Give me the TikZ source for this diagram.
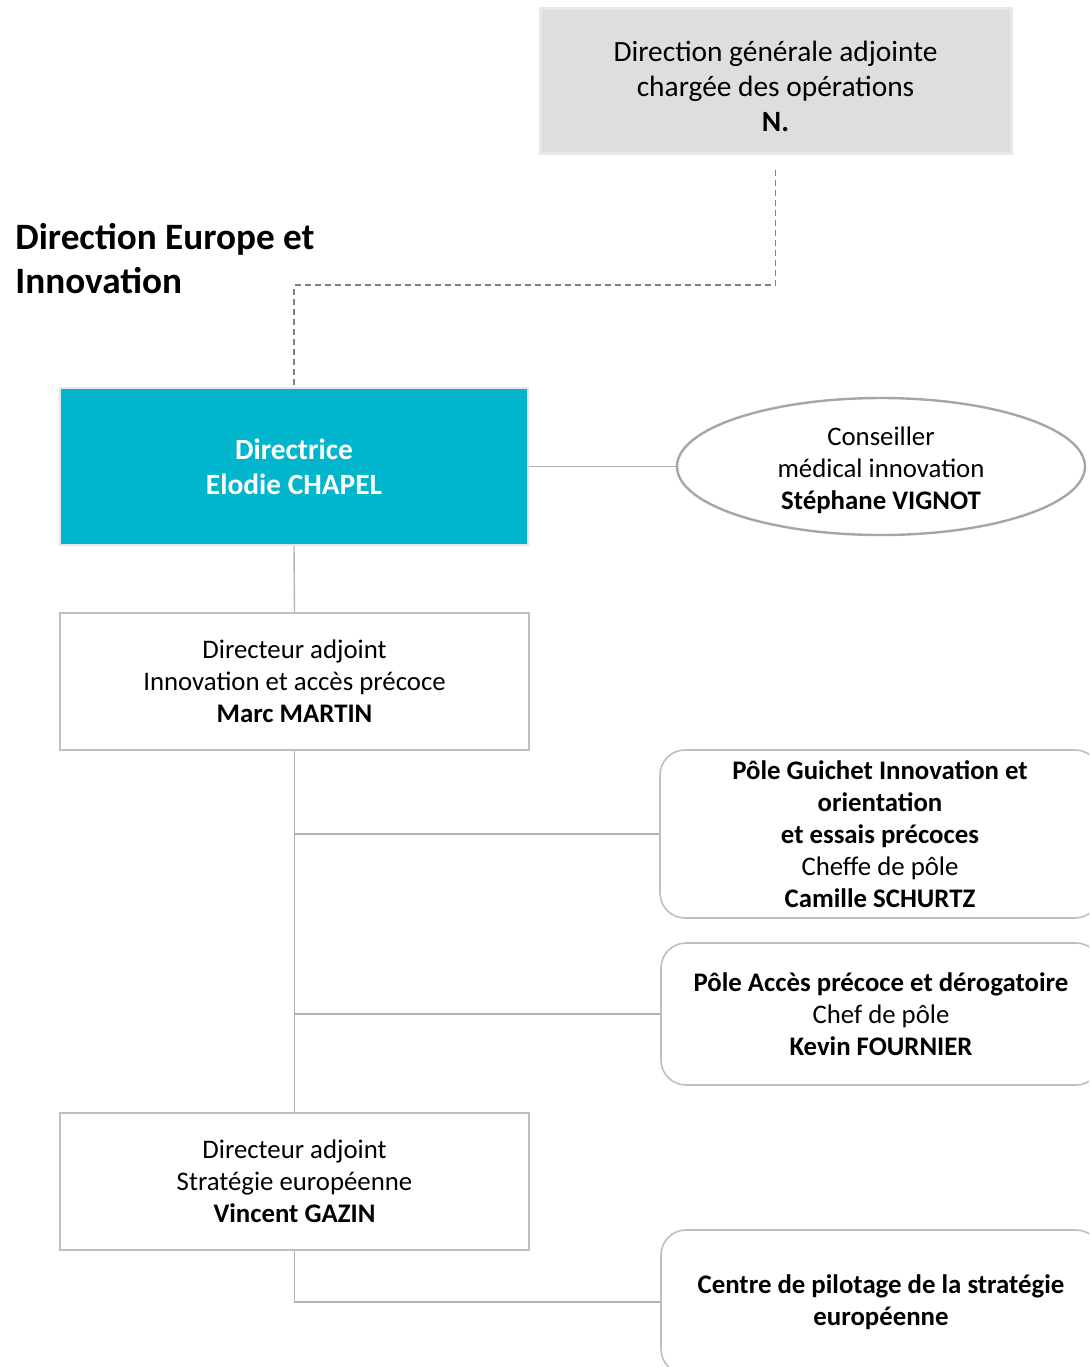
\documentclass[tikz,border=0pt]{standalone}
\usepackage{fontspec}
\setmainfont{Carlito}
\usetikzlibrary{shapes.geometric}
\definecolor{hasteal}{RGB}{0,181,204}
\definecolor{boxgray}{RGB}{191,191,191}
\definecolor{linegray}{RGB}{180,180,180}
\begin{document}
\begin{tikzpicture}[x=0.5pt,y=-0.5pt,
    posbox/.style={draw=boxgray, line width=0.8pt, fill=white, align=center, minimum width=234.5pt, minimum height=68.5pt, font=\fontsize{13.4}{16}\selectfont},
    polebox/.style={draw=boxgray, line width=0.8pt, fill=white, rounded corners=12.5pt, align=center, minimum width=220pt, font=\fontsize{13.4}{16}\selectfont},
    link/.style={draw=linegray, line width=0.7pt}]
  \useasboundingbox (0,0) rectangle (1089,1367);
  \clip (0,0) rectangle (1089,1367);
  \node[fill=black!13, draw=black!9, line width=1.5pt, minimum width=235.5pt, minimum height=72.5pt, align=center, font=\fontsize{14.7}{17.5}\selectfont] (dga) at (775.5,80.5) {\rule{0pt}{16pt}Direction générale adjointe\\chargée des opérations\\\textbf{N.}};
  \node[anchor=west, align=left, inner sep=0pt, font=\fontsize{18.6}{22}\selectfont\bfseries] (title) at (15,259) {Direction Europe et\\Innovation};
  \node[fill=hasteal, draw=black!10, line width=0.8pt, minimum width=234pt, minimum height=78.5pt, align=center, text=white, font=\fontsize{14.7}{17.5}\selectfont\bfseries] (dir) at (294,466.5) {Directrice\\Elodie CHAPEL};
  \node[ellipse, draw=black!35, line width=1.2pt, inner sep=0pt, minimum width=204pt, minimum height=68.5pt, align=center, font=\fontsize{13.4}{16}\selectfont] (cons) at (881,466.5) {\rule{0pt}{13pt}Conseiller\\médical innovation\\\textbf{Stéphane VIGNOT}};
  \node[posbox] (marc) at (294.5,681.5) {Directeur adjoint\\Innovation et accès précoce\\\textbf{Marc MARTIN}};
  \node[posbox] (vinc) at (294.5,1181.5) {Directeur adjoint\\Stratégie européenne\\\textbf{Vincent GAZIN}};
  \node[polebox, minimum height=84pt] (gui) at (880,834) {\textbf{Pôle Guichet Innovation et}\\\textbf{orientation}\\\textbf{et essais précoces}\\Cheffe de pôle\\\textbf{Camille SCHURTZ}};
  \node[polebox, minimum height=71pt] (acc) at (881,1014) {\textbf{Pôle Accès précoce et dérogatoire}\\Chef de pôle\\\textbf{Kevin FOURNIER}};
  \node[polebox, minimum height=72pt] (cen) at (881,1302) {\textbf{Centre de pilotage de la stratégie}\\\textbf{européenne}};
  \coordinate (dgaend) at (775.5,170);
  \draw[draw=black!50, line width=0.6pt, dash pattern=on 3pt off 2pt] (dgaend) -- ++(0,115) -| (dir.north);
  \draw[link] (dir.east) -- (cons.west);
  \draw[link] (dir.south) -- (marc.north);
  \draw[link] (marc.south) -- (vinc.north);
  \draw[link] (marc.south |- gui.west) -- (gui.west);
  \draw[link] (marc.south |- acc.west) -- (acc.west);
  \draw[link] (vinc.south) |- (cen.west);
\end{tikzpicture}
\end{document}
